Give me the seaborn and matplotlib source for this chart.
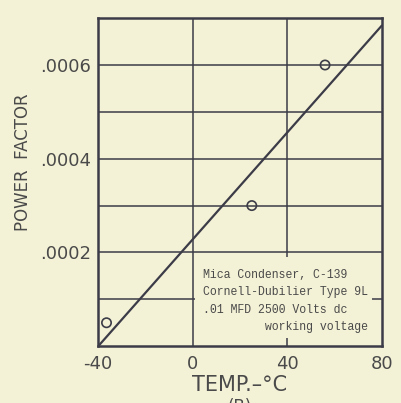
import matplotlib
matplotlib.use("Agg")
import matplotlib.pyplot as plt
from matplotlib.patches import Rectangle
import seaborn as sns
import pandas as pd

# measured points
temp = [-36.5, 25, 56]
pf = [0.00005, 0.0003, 0.0006]
# straight line drawn through them
fit_temp = [-40, 80]
fit_pf = [0.0, 0.000684]

xticks = [-40, 0, 40, 80]
yticks = [0.0002, 0.0004, 0.0006]
ytick_labels = [".0002", ".0004", ".0006"]
note = ["Mica Condenser, C-139",
        "Cornell-Dubilier Type 9L",
        ".01 MFD 2500 Volts dc",
        "         working voltage"]

bg = "#f4f2d6"
ink = "#3c3c48"
txt = "#4a4a4a"

sns.set_style("white")
plt.rcParams['font.family'] = ['DejaVu Sans']

fig = plt.figure(figsize=(4.01, 4.03), dpi=100, facecolor=bg)
ax = fig.add_axes([0.245, 0.141, 0.707, 0.814])
ax.set_facecolor(bg)

pts = pd.DataFrame({'temp': temp, 'pf': pf})
fit = pd.DataFrame({'temp': fit_temp, 'pf': fit_pf})
sns.lineplot(data=fit, x='temp', y='pf', ax=ax, color=ink, lw=1.6, zorder=3)
sns.scatterplot(data=pts, x='temp', y='pf', ax=ax, s=45, marker='o',
                facecolor='none', edgecolor=ink, linewidth=1.2, zorder=4)

ax.set_xlim(-40, 80)
ax.set_ylim(0, 0.0007)
ax.set_xticks(xticks)
ax.set_xticklabels([str(t) for t in xticks])
ax.set_yticks(yticks)
ax.set_yticklabels(ytick_labels)
ax.tick_params(length=0, labelsize=13, colors=txt)
ax.tick_params(axis='x', pad=6)
ax.tick_params(axis='y', pad=5)

# grid: horizontal every .0001, vertical at 0 and 40
ax.set_axisbelow(True)
for v in [0.0001, 0.0002, 0.0003, 0.0004, 0.0005, 0.0006]:
    ax.axhline(v, color=ink, lw=1.1, zorder=0.5)
for v in [0, 40]:
    ax.axvline(v, color=ink, lw=1.1, zorder=0.5)
for s in ax.spines.values():
    s.set_color(ink)
    s.set_linewidth(1.8)

# note box hides the grid behind it
ax.add_patch(Rectangle((1, 0.000018), 75, 0.000172, facecolor=bg,
                       edgecolor='none', zorder=1))
ax.text(4.5, 0.000165, "\n".join(note), family=['Liberation Mono', 'DejaVu Sans Mono'],
        fontsize=8.3, color=txt, va='top', ha='left', linespacing=1.6, zorder=2)

ax.set_xlabel("TEMP.\u2013\u00b0C", fontsize=15, color=txt, labelpad=2)
ax.set_ylabel("POWER  FACTOR", fontsize=12, color=txt)
ax.yaxis.set_label_coords(-0.235, 0.56)
fig.text(0.599, 0.012, "(B)", fontsize=12, color=txt, ha='center', va='top')

fig.savefig("out.png", dpi=100, facecolor=bg)
